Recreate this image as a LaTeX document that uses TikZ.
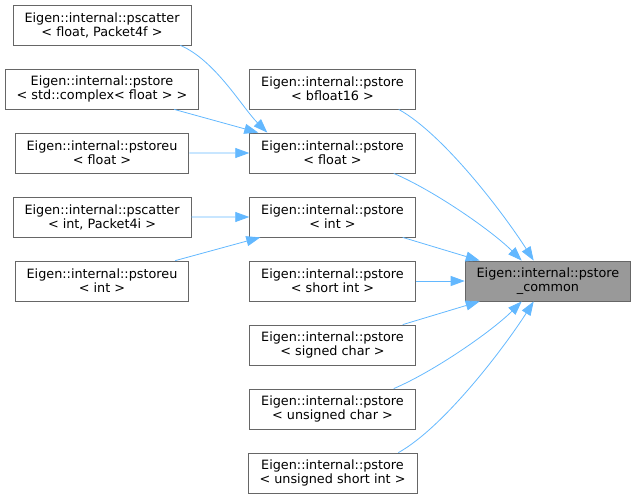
\documentclass[tikz,border=0pt]{standalone}
\usepackage{fontspec}
\setmainfont{DejaVu Sans}
\usetikzlibrary{arrows.meta,positioning,calc}
\definecolor{edgeBlue}{HTML}{63B8FF}
\definecolor{frame}{HTML}{666666}
\definecolor{hilite}{HTML}{999999}

\begin{document}
\begin{tikzpicture}[
  x=1pt,y=1pt,
  node distance=23.2pt and 49pt,
  fn/.style={draw=frame,fill=white,align=center,minimum height=40pt,
             inner xsep=11.5pt,inner ysep=2pt,line width=0.8pt,
             font=\fontsize{12.8}{14}\selectfont},
  focus/.style={fn,fill=hilite},
  call/.style={-{Triangle[length=14pt,width=10pt]},draw=edgeBlue,line width=0.8pt}
]
  \useasboundingbox (0,0) rectangle (636,-499);

  % callers of the callers
  \node[fn] (scatterF) at (102,-25) {Eigen::internal::pscatter\\< float, Packet4f >};
  \node[fn,below=of scatterF] (storeCx) {Eigen::internal::pstore\\< std::complex< float > >};
  \node[fn,below=of storeCx] (storeuF) {Eigen::internal::pstoreu\\< float >};
  \node[fn,below=of storeuF] (scatterI) {Eigen::internal::pscatter\\< int, Packet4i >};
  \node[fn,below=of scatterI] (storeuI) {Eigen::internal::pstoreu\\< int >};

  % direct callers
  \node[fn] (storeBf) at (332.5,-89) {Eigen::internal::pstore\\< bfloat16 >};
  \node[fn,below=of storeBf] (storeF) {Eigen::internal::pstore\\< float >};
  \node[fn,below=of storeF] (storeI) {Eigen::internal::pstore\\< int >};
  \node[fn,below=of storeI] (storeS) {Eigen::internal::pstore\\< short int >};
  \node[fn,below=of storeS] (storeSc) {Eigen::internal::pstore\\< signed char >};
  \node[fn,below=of storeSc] (storeUc) {Eigen::internal::pstore\\< unsigned char >};
  \node[fn,below=of storeUc] (storeUs) {Eigen::internal::pstore\\< unsigned short int >};

  \node[focus,right=of storeS] (common) {Eigen::internal::pstore\\\_common};

  % left column into float / int
  \draw[call] ($(scatterF.south east)+(-11,0)$) .. controls +(35,-15) and +(-25,25) .. ($(storeF.north west)+(18,0)$);
  \draw[call] ($(storeCx.south east)+(-25,0)$) -- ($(storeF.north west)+(9,0)$);
  \draw[call] (storeuF.east) -- (storeF.west);
  \draw[call] (scatterI.east) -- (storeI.west);
  \draw[call] ($(storeuI.north east)+(-14,0)$) -- ($(storeI.south west)+(11,0)$);

  % middle column into pstore_common
  \draw[call] ($(storeBf.south east)+(-17,0)$) .. controls +(45,-25) and +(-30,47) .. ($(common.north west)+(69,0)$);
  \draw[call] ($(storeF.south east)+(-22,0)$) .. controls +(40,-17) and +(-30,30) .. ($(common.north west)+(57,0)$);
  \draw[call] ($(storeI.south east)+(-13,0)$) -- ($(common.north west)+(15,0)$);
  \draw[call] (storeS.east) -- (common.west);
  \draw[call] ($(storeSc.north east)+(-13,0)$) -- ($(common.south west)+(15,0)$);
  \draw[call] ($(storeUc.north east)+(-22,0)$) .. controls +(40,17) and +(-30,-30) .. ($(common.south west)+(57,0)$);
  \draw[call] ($(storeUs.north east)+(-19,0)$) .. controls +(45,25) and +(-30,-47) .. ($(common.south west)+(69,0)$);
\end{tikzpicture}
\end{document}
